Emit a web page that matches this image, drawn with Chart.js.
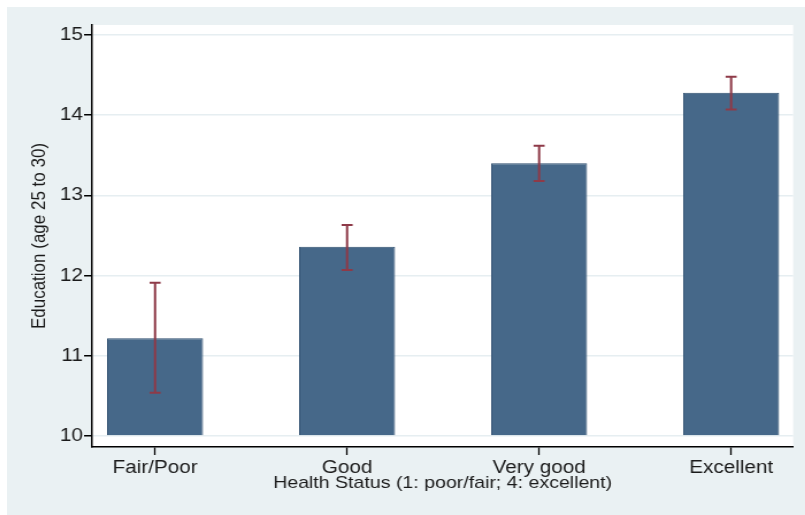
<!DOCTYPE html>
<html>
<head>
<meta charset="utf-8">
<script src="https://cdn.jsdelivr.net/npm/chart.js@4/dist/chart.umd.min.js"></script>
<style>
  body { margin: 0; background: #ffffff; overflow: hidden; }
  #frame { position: absolute; left: 7px; top: 7px; width: 798px; height: 508px; background: #eaf1f3; overflow: hidden; }
  /* the reference picture is stretched sideways, so the canvas is too */
  canvas { display: block; transform: scaleX(1.15); transform-origin: 0 0; }
</style>
</head>
<body>
<div id="frame"><canvas id="chart" width="694" height="508"></canvas></div>
<script>
// data
const categories = ['Fair/Poor', 'Good', 'Very good', 'Excellent'];
const meanEducation = [11.22, 12.36, 13.40, 14.28];
const ciLow = [10.54, 12.07, 13.18, 14.07];
const ciHigh = [11.91, 12.63, 13.62, 14.48];
const yTicks = [10, 11, 12, 13, 14, 15];

const FONT = "'Liberation Sans', Arial, Helvetica, sans-serif";

// white plot region
const plotBackground = {
    id: 'plotBackground',
    beforeDraw(chart) {
        const { ctx, chartArea } = chart;
        ctx.save();
        ctx.fillStyle = '#ffffff';
        ctx.fillRect(chartArea.left, chartArea.top, chartArea.right - chartArea.left, chartArea.bottom - chartArea.top);
        ctx.restore();
    }
};

// confidence interval whiskers
const errorBars = {
    id: 'errorBars',
    afterDatasetsDraw(chart) {
        const { ctx, scales } = chart;
        ctx.save();
        ctx.strokeStyle = '#8e3a48';
        ctx.lineWidth = 2;
        categories.forEach((c, i) => {
            const x = scales.x.getPixelForValue(i + 1);
            const yLo = scales.y.getPixelForValue(ciLow[i]);
            const yHi = scales.y.getPixelForValue(ciHigh[i]);
            ctx.beginPath();
            ctx.moveTo(x, yLo);
            ctx.lineTo(x, yHi);
            ctx.moveTo(x - 4.8, yLo);
            ctx.lineTo(x + 4.8, yLo);
            ctx.moveTo(x - 4.8, yHi);
            ctx.lineTo(x + 4.8, yHi);
            ctx.stroke();
        });
        ctx.restore();
    }
};

new Chart(document.getElementById('chart'), {
    type: 'bar',
    data: {
        datasets: [{
            data: meanEducation.map((v, i) => ({ x: i + 1, y: v })),
            base: 10,
            backgroundColor: '#466889',
            borderColor: '#2d4d6e',
            borderWidth: 1,
            barPercentage: 0.5,
            categoryPercentage: 1
        }]
    },
    options: {
        responsive: false,
        animation: false,
        devicePixelRatio: 1,
        layout: { padding: { left: 0, right: 10.4, top: 18, bottom: 0 } },
        plugins: {
            legend: { display: false },
            tooltip: { enabled: false }
        },
        scales: {
            x: {
                type: 'linear',
                offset: false,
                min: 0.672,
                max: 4.323,
                afterBuildTicks: (scale) => { scale.ticks = categories.map((c, i) => ({ value: i + 1 })); },
                afterFit: (scale) => { scale.height = 68; },
                ticks: {
                    callback: (v) => categories[v - 1],
                    color: '#1a1a1a',
                    font: { family: FONT, size: 18 },
                    padding: 2,
                    maxRotation: 0,
                    autoSkip: false
                },
                grid: { offset: false, drawOnChartArea: false, tickLength: 8, tickColor: '#000000', tickWidth: 1.3 },
                border: { color: '#000000', width: 1.5 },
                title: {
                    display: true,
                    text: 'Health Status (1: poor/fair; 4: excellent)',
                    color: '#1a1a1a',
                    font: { family: FONT, size: 17 },
                    padding: { top: 0, bottom: 21 }
                }
            },
            y: {
                min: 9.863,
                max: 15.125,
                afterBuildTicks: (scale) => { scale.ticks = yTicks.map(v => ({ value: v })); },
                afterFit: (scale) => { scale.width = 74; },
                ticks: {
                    color: '#1a1a1a',
                    font: { family: FONT, size: 18 },
                    padding: 1
                },
                grid: { color: '#e6eef1', lineWidth: 1.5, tickLength: 7, tickColor: '#000000', tickWidth: 1.5 },
                border: { color: '#000000', width: 1.5 },
                title: {
                    display: true,
                    text: 'Education (age 25 to 30)',
                    color: '#1a1a1a',
                    font: { family: FONT, size: 17 },
                    padding: { top: 18.5, bottom: 0 }
                }
            }
        }
    },
    plugins: [plotBackground, errorBars]
});
</script>
</body>
</html>
